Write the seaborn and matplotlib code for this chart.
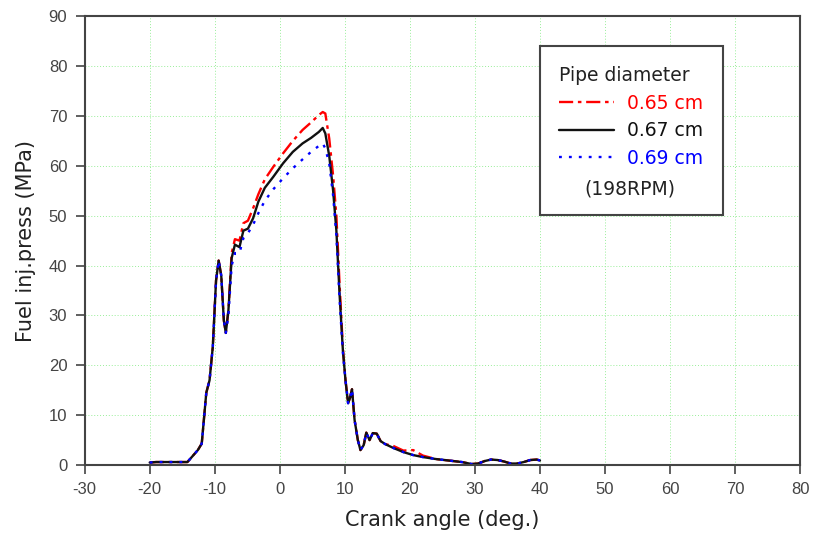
import numpy as np
import pandas as pd
import matplotlib
matplotlib.use('Agg')
import matplotlib.pyplot as plt
import seaborn as sns
from matplotlib.lines import Line2D

# Crank angle (deg.) sample points, shared by all three traces
crank_angle = [-20, -19, -17, -14.2, -13.6, -12.6, -12.0, -11.3, -10.8, -10.3,
               -9.8, -9.4, -9.0, -8.6, -8.3, -7.9, -7.4, -6.9, -6.2, -5.6,
               -4.9, -4.1, -3.3, -2.3, -1.0, 0.5, 2.0, 3.5, 4.8, 6.0,
               6.6, 7.0, 7.6, 8.2, 8.7, 9.2, 9.7, 10.1, 10.5, 10.8,
               11.1, 11.5, 12.0, 12.4, 12.9, 13.3, 13.8, 14.3, 14.9, 15.5,
               16.2, 17.5, 19.0, 20.5, 22.0, 24.0, 26.0, 28.0, 29.5, 30.5,
               31.5, 32.5, 33.5, 34.5, 35.5, 36.5, 37.5, 38.5, 39.5, 40.0]

# Fuel injection pressure (MPa) for each pipe diameter
press_065 = [0.5, 0.6, 0.6, 0.6, 1.5, 3.0, 4.3, 14.5, 17.0, 23.7,
             37.0, 41.0, 38.0, 29.0, 26.5, 31.0, 42.5, 45.3, 45.0, 48.5,
             49.0, 51.5, 54.3, 57.3, 59.8, 62.5, 65.0, 67.2, 68.7, 70.2,
             70.8, 70.5, 65.5, 58.0, 50.0, 36.0, 23.5, 17.0, 12.4, 13.5,
             15.2, 9.0, 5.0, 3.0, 4.0, 6.5, 5.0, 6.4, 6.3, 4.8,
             4.2, 3.8, 2.9, 3.0, 1.9, 1.2, 0.9, 0.6, 0.2, 0.3,
             0.8, 1.1, 1.0, 0.7, 0.3, 0.3, 0.6, 1.0, 1.1, 0.9]

press_067 = [0.5, 0.6, 0.6, 0.6, 1.5, 3.0, 4.3, 14.5, 17.0, 23.7,
             37.0, 41.0, 38.0, 29.0, 26.5, 31.0, 41.5, 44.2, 43.7, 47.0,
             47.4, 49.5, 52.8, 55.6, 57.8, 60.5, 62.8, 64.5, 65.6, 66.8,
             67.6, 66.5, 62.0, 55.0, 47.0, 34.0, 23.0, 17.0, 12.4, 13.5,
             15.2, 9.0, 5.0, 3.0, 4.0, 6.5, 5.0, 6.4, 6.3, 4.8,
             4.2, 3.4, 2.6, 2.0, 1.6, 1.2, 0.9, 0.6, 0.2, 0.3,
             0.8, 1.1, 1.0, 0.7, 0.3, 0.3, 0.6, 1.0, 1.1, 0.9]

press_069 = [0.5, 0.6, 0.6, 0.6, 1.5, 3.0, 4.3, 14.5, 17.0, 23.7,
             37.0, 41.0, 38.0, 29.0, 26.5, 30.0, 40.0, 42.5, 42.5, 45.5,
             46.5, 48.2, 50.5, 53.0, 55.3, 57.5, 59.5, 61.3, 62.8, 64.0,
             64.5, 63.5, 60.5, 54.0, 46.0, 33.0, 22.5, 17.0, 12.4, 13.5,
             15.2, 9.0, 5.0, 3.0, 4.0, 6.5, 5.0, 6.4, 6.3, 4.8,
             4.2, 3.4, 2.6, 2.0, 1.6, 1.2, 0.9, 0.6, 0.2, 0.3,
             0.8, 1.1, 1.0, 0.7, 0.3, 0.3, 0.6, 1.0, 1.1, 0.9]

labels = ['0.65 cm', '0.67 cm', '0.69 cm']
colors = ['#ff0000', '#111111', '#0000ff']
styles = [(0, (6, 2, 1.5, 2)), '-', (0, (1.2, 3))]

sns.set_theme(style='ticks')
plt.rcParams['font.family'] = ['DejaVu Sans']
plt.rcParams['axes.unicode_minus'] = False

fig = plt.figure(figsize=(8.14, 5.42), dpi=100)
ax = fig.add_axes([0.104, 0.142, 0.879, 0.828])

for lab, y, c, ls in zip(labels, [press_065, press_067, press_069], colors, styles):
    df = pd.DataFrame({'angle': crank_angle, 'press': y})
    sns.lineplot(data=df, x='angle', y='press', ax=ax, color=c,
                 linestyle=ls, linewidth=1.7, sort=False, estimator=None)

ax.set_xlim(-30, 80)
ax.set_ylim(0, 90)
ax.set_xticks(np.arange(-30, 81, 10))
ax.set_yticks(np.arange(0, 91, 10))
ax.grid(True, color='#99ee99', linestyle=(0, (1, 2)), linewidth=0.7)

for s in ax.spines.values():
    s.set_color('#444444')
    s.set_linewidth(1.5)
ax.tick_params(direction='out', length=6.5, width=1.2, color='#444444',
               labelsize=12, labelcolor='#444444', pad=6)
for t in ax.get_xticklabels() + ax.get_yticklabels():
    t.set_family('Liberation Sans')

ax.set_xlabel('Crank angle (deg.)', fontsize=15, color='#222222', labelpad=9)
ax.set_ylabel('Fuel inj.press (MPa)', fontsize=15, color='#222222', labelpad=9)

handles = [Line2D([], [], color=c, linestyle=ls, linewidth=1.7)
           for c, ls in zip(colors, styles)]
handles.append(Line2D([], [], linestyle='none'))
leg = ax.legend(handles, labels + [' '], title='Pipe diameter',
                loc='upper left', bbox_to_anchor=(0.636, 0.933),
                fontsize=13.5, title_fontsize=13.5, alignment='left',
                frameon=True, fancybox=False, edgecolor='#444444',
                framealpha=1, borderpad=1.05, labelspacing=0.46,
                handlelength=2.9, handletextpad=0.7, borderaxespad=0)
leg.get_frame().set_linewidth(1.5)
leg.get_title().set_color('#222222')
for t, c in zip(leg.get_texts(), colors):
    t.set_color(c)
ax.text(0.762, 0.614, '(198RPM)', transform=ax.transAxes, fontsize=13.5,
        ha='center', va='center', color='#222222', zorder=10)

fig.savefig('out.png', dpi=100)
